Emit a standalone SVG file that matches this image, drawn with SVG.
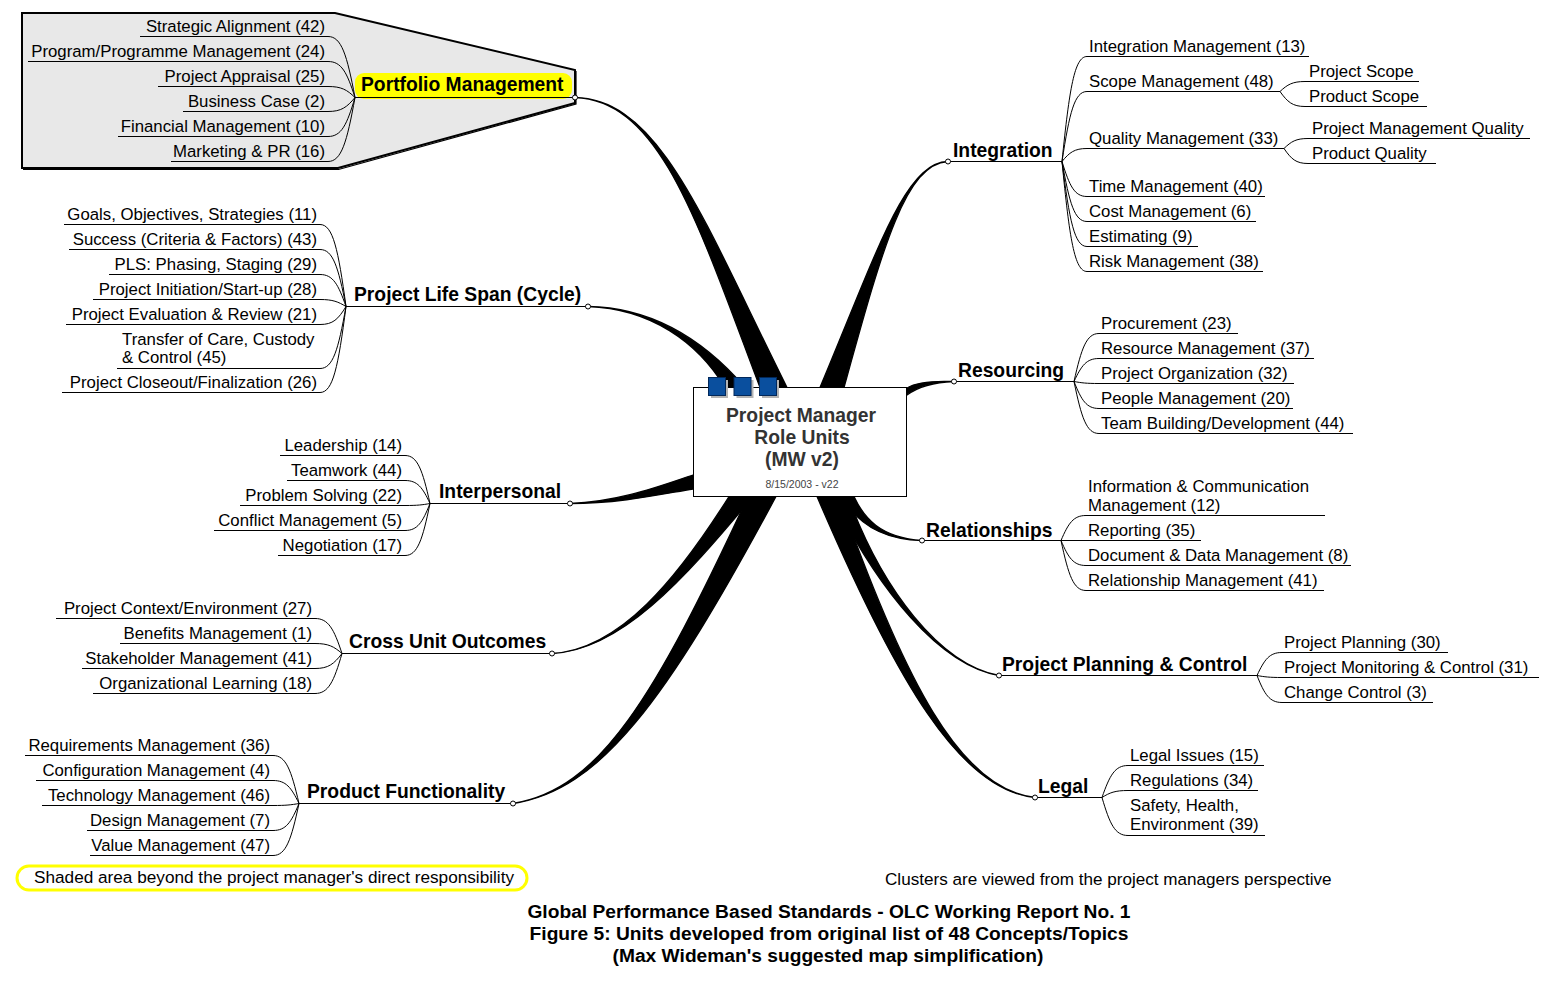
<svg xmlns="http://www.w3.org/2000/svg" width="1550" height="1000" viewBox="0 0 1550 1000">
<style>
text{font-family:"Liberation Sans",Arial,sans-serif;fill:#000}
.t{font-size:16.8px}
.e{text-anchor:end}
.b{font-size:19.3px;font-weight:bold}
.c{text-anchor:middle}
.ul{fill:none;stroke:#000;stroke-width:1}
.br{fill:#000;stroke:#000;stroke-width:1.3;stroke-linejoin:round}
.dot{fill:#fff;stroke:#000;stroke-width:1}
.sq{fill:#0a4f9e;stroke:#02285a;stroke-width:1}
.sh{fill:#b4b4b4}
</style>
<rect width="1550" height="1000" fill="#fff"/>

<g id="portfolio-shade">
<polygon points="22,13 335,13 575,70 575,103 338,168 22,168" fill="#e8e8e8" stroke="#000" stroke-width="2"/>
<polyline points="576,71 576,104 338.5,169.5 23,169.5" fill="none" stroke="#000" stroke-width="1.2"/>
</g>

<g id="connectors">
<path class="br" d="M575,97.5 C660,100.5 697.2,221.2 760,387.5 L787,387.5 C702.8,218.8 660,99.5 575,97.5 Z"/>
<path class="br" d="M588,306.5 C650,308.5 697.6,341.8 725,387.5 L745,387.5 C702.4,338.2 650,307.5 588,306.5 Z"/>
<path class="br" d="M948,161.5 C905,162.5 878.1,249.3 820,387.5 L844,387.5 C881.9,250.7 905,163.5 948,161.5 Z"/>
<path class="br" d="M954,381.5 C930,380.5 915,383 907,388 L907,395 C917,387.5 930,382.5 954,381.5 Z"/>
<path class="br" d="M570,503.5 C620,501.5 660,486 693,475 L693,489 C662,494 620,503.5 570,503.5 Z"/>
<path class="br" d="M552,653.5 C620,649.5 677.6,578.2 729,496.5 L753,496.5 C682.4,581.8 620,650.5 552,653.5 Z"/>
<path class="br" d="M513,803.5 C600,789.5 654.7,697.3 748,496.5 L776,496.5 C665.3,702.7 600,790.5 513,803.5 Z"/>
<path class="br" d="M922,540.5 C880,539.5 856,522 842,496.5 L854,496.5 C864,518 880,537.5 922,540.5 Z"/>
<path class="br" d="M999,675.5 C940,665.5 878.2,590.8 832,496.5 L848,496.5 C881.8,589.2 940,664.5 999,675.5 Z"/>
<path class="br" d="M1035,797.5 C960,790.5 896.3,681.4 817,496.5 L839,496.5 C903.7,678.6 960,789.5 1035,797.5 Z"/>
</g>

<g id="center">
<rect x="693.5" y="387.5" width="213" height="109" fill="#fff" stroke="#000" stroke-width="1"/>
<rect class="sh" x="711" y="380" width="17" height="18"/>
<rect class="sh" x="736.5" y="380" width="17" height="18"/>
<rect class="sh" x="762" y="380" width="17" height="18"/>
<rect class="sq" x="708.5" y="377.5" width="17" height="18"/>
<rect class="sq" x="734" y="377.5" width="17" height="18"/>
<rect class="sq" x="759.5" y="377.5" width="17" height="18"/>
<text class="b c" x="801" y="422" style="fill:#333">Project Manager</text>
<text class="b c" x="802" y="444" style="fill:#333">Role Units</text>
<text class="b c" x="802" y="466" style="fill:#333">(MW v2)</text>
<text class="c" x="802" y="488" style="font-size:10.5px;fill:#444">8/15/2003 - v22</text>
</g>

<g id="portfolio">
<rect x="355" y="73" width="217" height="26" rx="9" fill="#ffff00"/>
<text class="b" x="361" y="91">Portfolio Management</text>
<path class="ul" d="M355,97.5 H575"/>
<circle class="dot" cx="575" cy="97.5" r="2.5"/>
<path class="ul" d="M140,36.5 H328 C341.5,36.5 346.9,54.7 355,97.5"/>
<path class="ul" d="M28,61.5 H328 C341.5,61.5 346.9,72.2 355,97.5"/>
<path class="ul" d="M158,86.5 H328 C341.5,86.5 346.9,89.7 355,97.5"/>
<path class="ul" d="M183,111.5 H328 C341.5,111.5 346.9,107.2 355,97.5"/>
<path class="ul" d="M118,136.5 H328 C341.5,136.5 346.9,124.7 355,97.5"/>
<path class="ul" d="M171,161.5 H328 C341.5,161.5 346.9,142.2 355,97.5"/>
<text class="t e" x="325" y="32">Strategic Alignment (42)</text>
<text class="t e" x="325" y="57">Program/Programme Management (24)</text>
<text class="t e" x="325" y="82">Project Appraisal (25)</text>
<text class="t e" x="325" y="107">Business Case (2)</text>
<text class="t e" x="325" y="132">Financial Management (10)</text>
<text class="t e" x="325" y="157">Marketing &amp; PR (16)</text>
</g>

<g id="lifespan">
<text class="b" x="354" y="301">Project Life Span (Cycle)</text>
<path class="ul" d="M346,306.5 H588"/>
<circle class="dot" cx="588" cy="306.5" r="2.5"/>
<path class="ul" d="M64,224.5 H320 C333,224.5 338.2,249.3 346,306.5"/>
<path class="ul" d="M69,249.5 H320 C333,249.5 338.2,266.8 346,306.5"/>
<path class="ul" d="M109,274.5 H320 C333,274.5 338.2,284.3 346,306.5"/>
<path class="ul" d="M93,299.5 H320 C333,299.5 338.2,301.8 346,306.5"/>
<path class="ul" d="M66,324.5 H320 C333,324.5 338.2,319.3 346,306.5"/>
<path class="ul" d="M117,368.5 H320 C333,368.5 338.2,350 346,306.5"/>
<path class="ul" d="M62,392.5 H320 C333,392.5 338.2,366.9 346,306.5"/>
<text class="t e" x="317" y="220">Goals, Objectives, Strategies (11)</text>
<text class="t e" x="317" y="245">Success (Criteria &amp; Factors) (43)</text>
<text class="t e" x="317" y="270">PLS: Phasing, Staging (29)</text>
<text class="t e" x="317" y="295">Project Initiation/Start-up (28)</text>
<text class="t e" x="317" y="320">Project Evaluation &amp; Review (21)</text>
<text class="t" x="122" y="345">Transfer of Care, Custody</text>
<text class="t" x="122" y="363">&amp; Control (45)</text>
<text class="t e" x="317" y="388">Project Closeout/Finalization (26)</text>
</g>

<g id="interpersonal">
<text class="b" x="439" y="498">Interpersonal</text>
<path class="ul" d="M430,503.5 H570"/>
<circle class="dot" cx="570" cy="503.5" r="2.5"/>
<path class="ul" d="M280,455.5 H405 C417.5,455.5 422.5,469.9 430,503.5"/>
<path class="ul" d="M287,480.5 H405 C417.5,480.5 422.5,487.4 430,503.5"/>
<path class="ul" d="M240,505.5 H405 C417.5,505.5 422.5,504.9 430,503.5"/>
<path class="ul" d="M214,530.5 H405 C417.5,530.5 422.5,522.4 430,503.5"/>
<path class="ul" d="M278,555.5 H405 C417.5,555.5 422.5,539.9 430,503.5"/>
<text class="t e" x="402" y="451">Leadership (14)</text>
<text class="t e" x="402" y="476">Teamwork (44)</text>
<text class="t e" x="402" y="501">Problem Solving (22)</text>
<text class="t e" x="402" y="526">Conflict Management (5)</text>
<text class="t e" x="402" y="551">Negotiation (17)</text>
</g>

<g id="crossunit">
<text class="b" x="349" y="648">Cross Unit Outcomes</text>
<path class="ul" d="M342,653.5 H552"/>
<circle class="dot" cx="552" cy="653.5" r="2.5"/>
<path class="ul" d="M56,618.5 H315 C328.5,618.5 333.9,629 342,653.5"/>
<path class="ul" d="M120,643.5 H315 C328.5,643.5 333.9,646.5 342,653.5"/>
<path class="ul" d="M82,668.5 H315 C328.5,668.5 333.9,664 342,653.5"/>
<path class="ul" d="M93,693.5 H315 C328.5,693.5 333.9,681.5 342,653.5"/>
<text class="t e" x="312" y="614">Project Context/Environment (27)</text>
<text class="t e" x="312" y="639">Benefits Management (1)</text>
<text class="t e" x="312" y="664">Stakeholder Management (41)</text>
<text class="t e" x="312" y="689">Organizational Learning (18)</text>
</g>

<g id="product">
<text class="b" x="307" y="798">Product Functionality</text>
<path class="ul" d="M299,803.5 H513"/>
<circle class="dot" cx="513" cy="803.5" r="2.5"/>
<path class="ul" d="M25,755.5 H273 C286,755.5 291.2,769.9 299,803.5"/>
<path class="ul" d="M36,780.5 H273 C286,780.5 291.2,787.4 299,803.5"/>
<path class="ul" d="M42,805.5 H273 C286,805.5 291.2,804.9 299,803.5"/>
<path class="ul" d="M87,830.5 H273 C286,830.5 291.2,822.4 299,803.5"/>
<path class="ul" d="M90,855.5 H273 C286,855.5 291.2,839.9 299,803.5"/>
<text class="t e" x="270" y="751">Requirements Management (36)</text>
<text class="t e" x="270" y="776">Configuration Management (4)</text>
<text class="t e" x="270" y="801">Technology Management (46)</text>
<text class="t e" x="270" y="826">Design Management (7)</text>
<text class="t e" x="270" y="851">Value Management (47)</text>
</g>

<g id="integration">
<text class="b" x="953" y="157">Integration</text>
<path class="ul" d="M948,161.5 H1062"/>
<circle class="dot" cx="948" cy="161.5" r="2.5"/>
<path class="ul" d="M1062,161.5 C1069.5,88 1074.5,56.5 1087,56.5 H1309"/>
<path class="ul" d="M1062,161.5 C1069.5,112.5 1074.5,91.5 1087,91.5 H1280"/>
<path class="ul" d="M1062,161.5 C1069.5,152.4 1074.5,148.5 1087,148.5 H1284"/>
<path class="ul" d="M1062,161.5 C1069.5,186 1074.5,196.5 1087,196.5 H1265"/>
<path class="ul" d="M1062,161.5 C1069.5,203.5 1074.5,221.5 1087,221.5 H1256"/>
<path class="ul" d="M1062,161.5 C1069.5,221 1074.5,246.5 1087,246.5 H1198"/>
<path class="ul" d="M1062,161.5 C1069.5,238.5 1074.5,271.5 1087,271.5 H1263"/>
<path class="ul" d="M1280,91.5 C1287.5,84.5 1292.5,81.5 1305,81.5 H1419"/>
<path class="ul" d="M1280,91.5 C1287.5,102 1292.5,106.5 1305,106.5 H1427"/>
<path class="ul" d="M1284,148.5 C1291.2,141.5 1296,138.5 1308,138.5 H1530"/>
<path class="ul" d="M1284,148.5 C1291.2,159 1296,163.5 1308,163.5 H1436"/>
<text class="t" x="1089" y="52">Integration Management (13)</text>
<text class="t" x="1089" y="87">Scope Management (48)</text>
<text class="t" x="1309" y="77">Project Scope</text>
<text class="t" x="1309" y="102">Product Scope</text>
<text class="t" x="1089" y="144">Quality Management (33)</text>
<text class="t" x="1312" y="134">Project Management Quality</text>
<text class="t" x="1312" y="159">Product Quality</text>
<text class="t" x="1089" y="192">Time Management (40)</text>
<text class="t" x="1089" y="217">Cost Management (6)</text>
<text class="t" x="1089" y="242">Estimating (9)</text>
<text class="t" x="1089" y="267">Risk Management (38)</text>
</g>

<g id="resourcing">
<text class="b" x="958" y="377">Resourcing</text>
<path class="ul" d="M954,381.5 H1074"/>
<circle class="dot" cx="954" cy="381.5" r="2.5"/>
<path class="ul" d="M1074,381.5 C1081.5,347.9 1086.5,333.5 1099,333.5 H1238"/>
<path class="ul" d="M1074,381.5 C1081.5,365.4 1086.5,358.5 1099,358.5 H1314"/>
<path class="ul" d="M1074,381.5 C1081.5,382.9 1086.5,383.5 1099,383.5 H1294"/>
<path class="ul" d="M1074,381.5 C1081.5,400.4 1086.5,408.5 1099,408.5 H1293"/>
<path class="ul" d="M1074,381.5 C1081.5,417.9 1086.5,433.5 1099,433.5 H1353"/>
<text class="t" x="1101" y="329">Procurement (23)</text>
<text class="t" x="1101" y="354">Resource Management (37)</text>
<text class="t" x="1101" y="379">Project Organization (32)</text>
<text class="t" x="1101" y="404">People Management (20)</text>
<text class="t" x="1101" y="429">Team Building/Development (44)</text>
</g>

<g id="relationships">
<text class="b" x="926" y="537">Relationships</text>
<path class="ul" d="M922,540.5 H1061"/>
<circle class="dot" cx="922" cy="540.5" r="2.5"/>
<path class="ul" d="M1061,540.5 C1068.5,523 1073.5,515.5 1086,515.5 H1325"/>
<path class="ul" d="M1061,540.5 H1201"/>
<path class="ul" d="M1061,540.5 C1068.5,558 1073.5,565.5 1086,565.5 H1351"/>
<path class="ul" d="M1061,540.5 C1068.5,575.5 1073.5,590.5 1086,590.5 H1324"/>
<text class="t" x="1088" y="492">Information &amp; Communication</text>
<text class="t" x="1088" y="511">Management (12)</text>
<text class="t" x="1088" y="536">Reporting (35)</text>
<text class="t" x="1088" y="561">Document &amp; Data Management (8)</text>
<text class="t" x="1088" y="586">Relationship Management (41)</text>
</g>

<g id="planning">
<text class="b" x="1002" y="671">Project Planning &amp; Control</text>
<path class="ul" d="M999,675.5 H1257"/>
<circle class="dot" cx="999" cy="675.5" r="2.5"/>
<path class="ul" d="M1257,675.5 C1264.5,659.4 1269.5,652.5 1282,652.5 H1448"/>
<path class="ul" d="M1257,675.5 C1264.5,676.9 1269.5,677.5 1282,677.5 H1539"/>
<path class="ul" d="M1257,675.5 C1264.5,694.4 1269.5,702.5 1282,702.5 H1433"/>
<text class="t" x="1284" y="648">Project Planning (30)</text>
<text class="t" x="1284" y="673">Project Monitoring &amp; Control (31)</text>
<text class="t" x="1284" y="698">Change Control (3)</text>
</g>

<g id="legal">
<text class="b" x="1038" y="793">Legal</text>
<path class="ul" d="M1035,797.5 H1102"/>
<circle class="dot" cx="1035" cy="797.5" r="2.5"/>
<path class="ul" d="M1102,797.5 C1109.8,775.1 1115,765.5 1128,765.5 H1264"/>
<path class="ul" d="M1102,797.5 C1109.8,792.6 1115,790.5 1128,790.5 H1258"/>
<path class="ul" d="M1102,797.5 C1109.8,824.1 1115,835.5 1128,835.5 H1265"/>
<text class="t" x="1130" y="761">Legal Issues (15)</text>
<text class="t" x="1130" y="786">Regulations (34)</text>
<text class="t" x="1130" y="811">Safety, Health,</text>
<text class="t" x="1130" y="830">Environment (39)</text>
</g>

<g id="notes">
<rect x="17" y="866" width="510" height="24" rx="12" fill="none" stroke="#ffff00" stroke-width="3"/>
<text class="t" x="34" y="883" style="font-size:17.2px">Shaded area beyond the project manager's direct responsibility</text>
<text class="t" x="885" y="885" style="font-size:17.1px">Clusters are viewed from the project managers perspective</text>
<text class="c" x="829" y="918" style="font-size:19.2px;font-weight:bold">Global Performance Based Standards - OLC Working Report No. 1</text>
<text class="c" x="829" y="940" style="font-size:19.2px;font-weight:bold">Figure 5: Units developed from original list of 48 Concepts/Topics</text>
<text class="c" x="828" y="962" style="font-size:19.2px;font-weight:bold">(Max Wideman's suggested map simplification)</text>
</g>
</svg>
